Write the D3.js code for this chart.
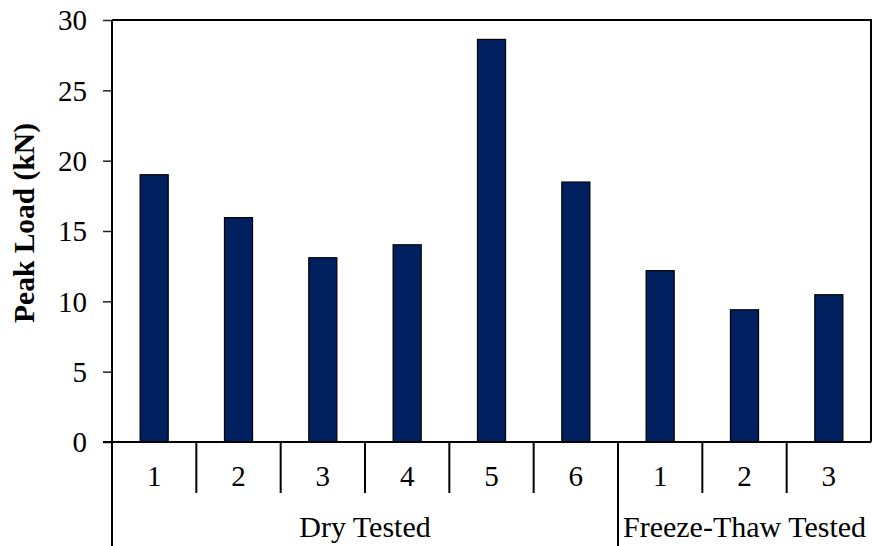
<!DOCTYPE html>
<html><head><meta charset="utf-8">
<script src="https://cdn.jsdelivr.net/npm/d3@7"></script>
<style>body{margin:0;background:#fff}svg{display:block}text{font-family:"Liberation Serif","Times New Roman",serif;fill:#000}</style>
</head><body>
<script>
const categories = ["D1","D2","D3","D4","D5","D6","F1","F2","F3"];
const catLabels = ["1","2","3","4","5","6","1","2","3"];
const values = [19.0, 15.95, 13.1, 14.02, 28.62, 18.48, 12.18, 9.4, 10.47];
const groups = ["Dry Tested","Freeze-Thaw Tested"];
const groupSizes = [6, 3];
const yTicks = [0,5,10,15,20,25,30];

const W = 873, H = 546;
const m = {left:112, right:871, top:20, bottom:442};
const svg = d3.select("body").append("svg").attr("width",W).attr("height",H);

const x = d3.scaleBand().domain(categories).range([m.left, m.right]).paddingInner(0).paddingOuter(0);
const y = d3.scaleLinear().domain([0,30]).range([m.bottom, m.top]);

// bars
const bw = x.bandwidth()*0.333;
svg.selectAll("rect.bar").data(values).join("rect").attr("class","bar")
  .attr("x",(d,i)=>x(categories[i])+x.bandwidth()/2-bw/2)
  .attr("width",bw)
  .attr("y",d=>y(d)).attr("height",d=>y(0)-y(d))
  .attr("fill","#002060").attr("stroke","#000").attr("stroke-width",1.2);

// plot border (top, right)
svg.append("path").attr("d",`M${m.left},${m.top}H${m.right}V${m.bottom}`)
  .attr("fill","none").attr("stroke","#000").attr("stroke-width",2);

// y axis
const ya = svg.append("g").attr("transform",`translate(${m.left},0)`)
  .call(d3.axisLeft(y).tickValues(yTicks).tickSize(9).tickPadding(16).tickFormat(d3.format("d")));
ya.select(".domain").remove();
ya.selectAll(".tick line").attr("stroke","#222").attr("stroke-width",1.5);
ya.selectAll("text").style("font-size","29px").attr("dy","0.34em");
svg.append("line").attr("x1",m.left).attr("x2",m.left).attr("y1",m.top).attr("y2",H)
  .attr("stroke","#000").attr("stroke-width",2);

// baseline
svg.append("line").attr("x1",m.left-9).attr("x2",m.right).attr("y1",y(0)).attr("y2",y(0))
  .attr("stroke","#000").attr("stroke-width",2);

// category separators
const bounds = categories.map(c=>x(c)).slice(1);
svg.selectAll("line.sep").data(bounds).join("line").attr("class","sep")
  .attr("x1",d=>d).attr("x2",d=>d).attr("y1",y(0)).attr("y2",493)
  .attr("stroke","#000").attr("stroke-width",2);

// category labels
svg.selectAll("text.cat").data(catLabels).join("text").attr("class","cat")
  .attr("x",(d,i)=>x(categories[i])+x.bandwidth()/2).attr("y",486)
  .attr("text-anchor","middle").style("font-size","29px").text(d=>d);

// group separators and labels
let start = 0;
groups.forEach((g,gi)=>{
  const x0 = x(categories[start]);
  const x1 = start+groupSizes[gi] < categories.length ? x(categories[start+groupSizes[gi]]) : m.right;
  if (gi>0) svg.append("line").attr("x1",x0).attr("x2",x0).attr("y1",y(0)).attr("y2",H)
      .attr("stroke","#000").attr("stroke-width",2);
  svg.append("text").attr("x",(x0+x1)/2).attr("y",537).attr("text-anchor","middle")
    .style("font-size","30px").text(g);
  start += groupSizes[gi];
});

// y label
svg.append("text").attr("transform",`translate(34,223) rotate(-90)`)
  .attr("text-anchor","middle").style("font-size","29.5px").style("font-weight","bold")
  .text("Peak Load (kN)");
</script>
</body></html>
